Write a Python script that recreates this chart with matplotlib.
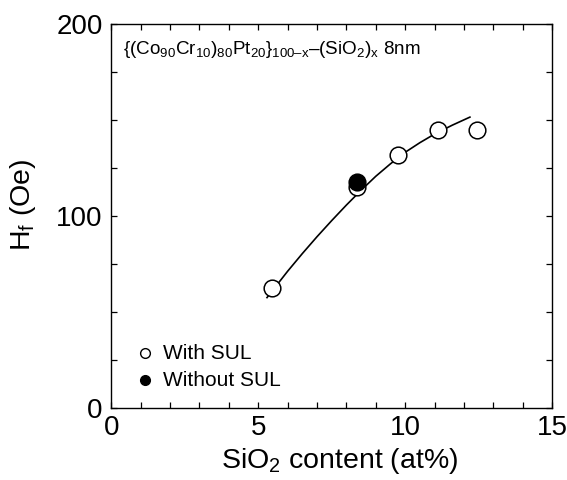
import numpy as np
import matplotlib
matplotlib.use('Agg')
import matplotlib.pyplot as plt
from matplotlib.ticker import MultipleLocator

plt.rcParams['font.family'] = ['Liberation Sans', 'DejaVu Sans']
plt.rcParams['mathtext.fontset'] = 'custom'
plt.rcParams['mathtext.rm'] = 'Liberation Sans'
plt.rcParams['mathtext.it'] = 'Liberation Sans'
plt.rcParams['mathtext.default'] = 'regular'

# datos
sio2_con = [5.47, 8.36, 9.74, 11.13, 12.44]
hf_con = [62.5, 115.0, 132.0, 145.0, 145.0]

sio2_sin = [8.36]
hf_sin = [117.5]

# curva guia (puntos leidos sobre la linea)
curva_x = [5.3, 6.0, 6.5, 7.0, 7.5, 8.0, 8.5, 9.0, 9.5, 10.0, 10.5, 11.0, 11.6, 12.2]
curva_y = [57.5, 71.2, 80.4, 89.2, 97.6, 105.7, 113.4, 120.7, 127.2, 133.2,
           138.2, 142.7, 147.3, 151.5]

fig = plt.figure(figsize=(5.67, 4.8), dpi=100)
ax = fig.add_axes([0.196, 0.15, 0.778, 0.80])

ax.plot(curva_x, curva_y, color='k', lw=1.2, zorder=1)
ax.plot(sio2_con, hf_con, 'o', ms=12, mfc='white', mec='k', mew=1.1, zorder=2)
ax.plot(sio2_sin, hf_sin, 'o', ms=12, mfc='k', mec='k', mew=1.1, zorder=3)

# leyenda a mano
ax.plot([1.15], [28.5], 'o', ms=7, mfc='white', mec='k', mew=1.0)
ax.plot([1.15], [14.5], 'o', ms=7, mfc='k', mec='k', mew=1.0)
ax.text(1.75, 28.5, 'With SUL', fontsize=15, va='center', ha='left')
ax.text(1.75, 14.5, 'Without SUL', fontsize=15, va='center', ha='left')

etiqueta = ('{(Co$_{90}$Cr$_{10}$)$_{80}$Pt$_{20}$}$_{100\u2013x}$'
            '\u2013(SiO$_2$)$_x$ 8nm')
ax.text(0.4, 186.5, etiqueta, fontsize=13.6, va='center', ha='left')

ax.set_xlim(0, 15)
ax.set_ylim(0, 200)
ax.xaxis.set_major_locator(MultipleLocator(5))
ax.xaxis.set_minor_locator(MultipleLocator(1))
ax.yaxis.set_major_locator(MultipleLocator(100))
ax.yaxis.set_minor_locator(MultipleLocator(25))
ax.tick_params(which='both', direction='in', top=True, right=True,
               length=4.3, width=0.9, labelsize=20)
ax.tick_params(axis='x', pad=5)
ax.tick_params(axis='y', pad=6)
for s in ax.spines.values():
    s.set_linewidth(1.0)

ax.set_xlabel('SiO$_2$ content (at%)', fontsize=20.5)
ax.xaxis.set_label_coords(0.517, -0.098)
ax.set_ylabel('H$_f$ (Oe)', fontsize=20.5)
ax.yaxis.set_label_coords(-0.165, 0.53)

fig.savefig('out.png', dpi=100)
